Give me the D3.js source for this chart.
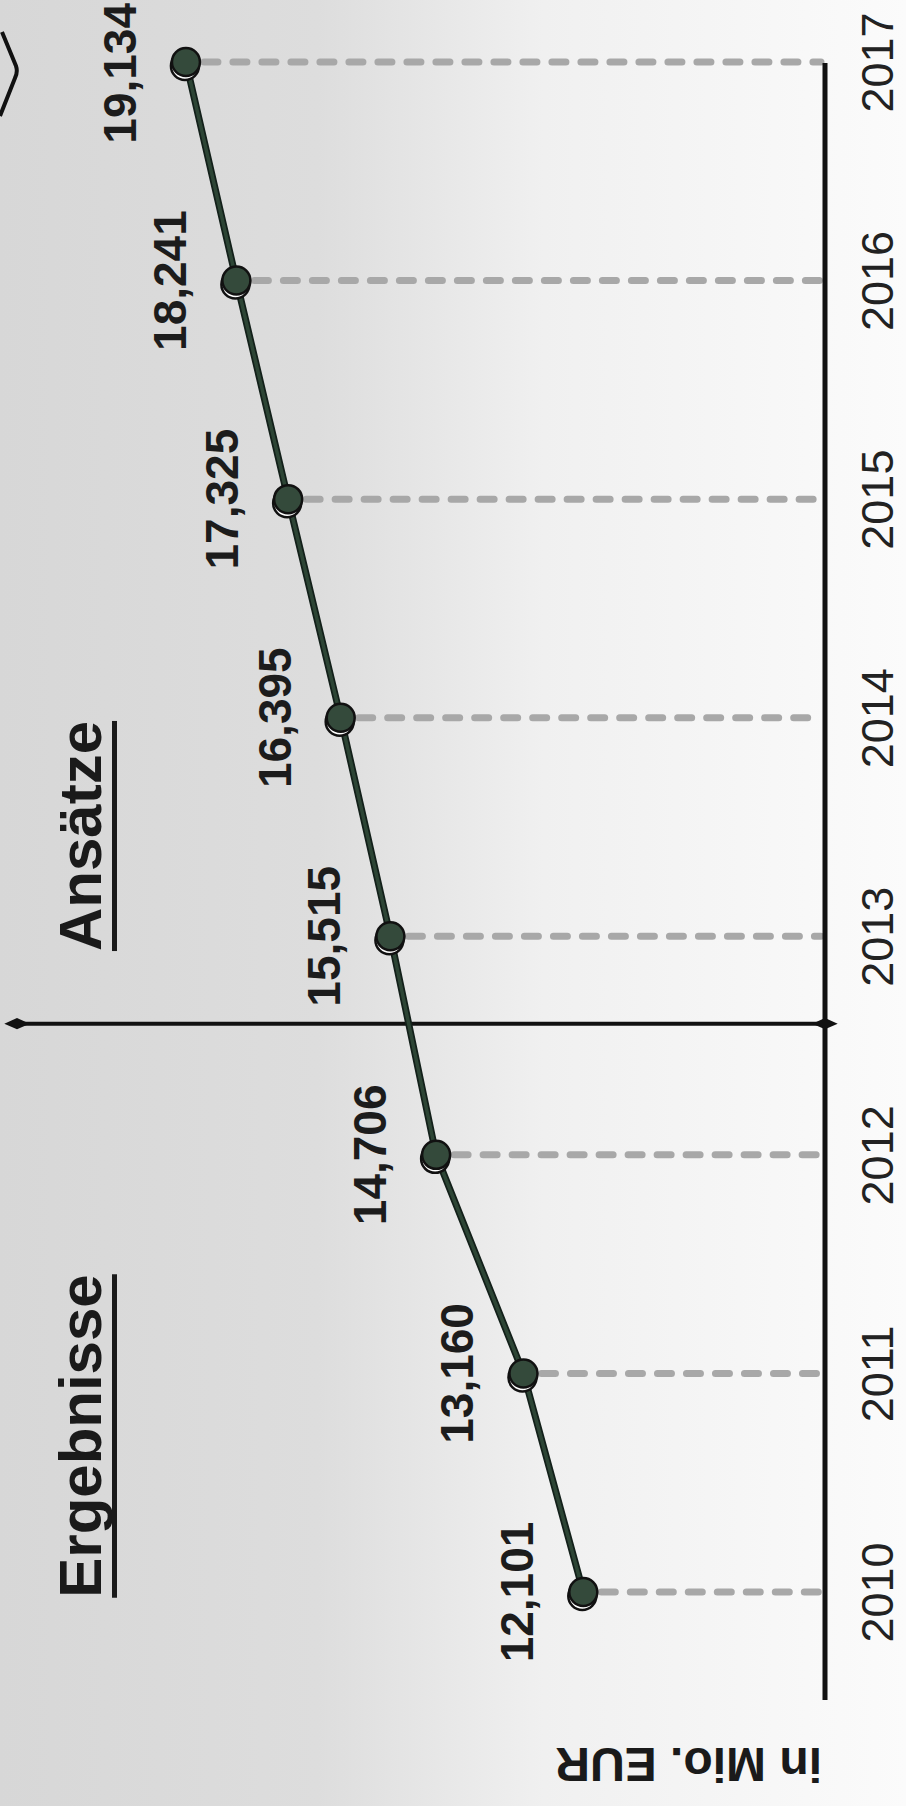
<!DOCTYPE html>
<html>
<head>
<meta charset="utf-8">
<script src="https://cdn.jsdelivr.net/npm/d3@7"></script>
<style>
  html, body { margin: 0; padding: 0; background: #fff; }
  svg { display: block; }
  text { font-family: "Liberation Sans", Arial, "DejaVu Sans", sans-serif; }
</style>
</head>
<body>
<div id="chart"></div>
<script>
// chart data (page is turned a quarter to the left: years run bottom -> top)
var years = [2010, 2011, 2012, 2013, 2014, 2015, 2016, 2017];
var values = [12101, 13160, 14706, 15515, 16395, 17325, 18241, 19134];
var titles = ["Ergebnisse", "Ansätze"];
var unitLabel = "in Mio. EUR";
var splitAfter = 2012;

var width = 906, height = 1806;
var axisX = 825;

var data = years.map(function (y, i) { return { year: y, value: values[i] }; });

var svg = d3.select("#chart")
  .append("svg")
  .attr("width", width)
  .attr("height", height);

// scanned paper look: grey on the left, white towards the right
var defs = svg.append("defs");
var grad = defs.append("linearGradient")
  .attr("id", "paper")
  .attr("x1", "0").attr("x2", "1").attr("y1", "0").attr("y2", "0");
grad.append("stop").attr("offset", "0%").attr("stop-color", "#d7d7d7");
grad.append("stop").attr("offset", "35%").attr("stop-color", "#dddddd");
grad.append("stop").attr("offset", "60%").attr("stop-color", "#f0f0f0");
grad.append("stop").attr("offset", "100%").attr("stop-color", "#fbfbfb");

svg.append("rect")
  .attr("width", width)
  .attr("height", height)
  .attr("fill", "url(#paper)");

// cut-off shape in the top left corner
svg.append("path")
  .attr("d", "M2,32 L16,66 Q18,72 15,78 L0,116")
  .attr("fill", "none")
  .attr("stroke", "#111")
  .attr("stroke-width", 4);

var yearScale = d3.scalePoint()
  .domain(years)
  .range([1592, 62]);

var valueScale = d3.scaleLinear()
  .domain([12000, 20000])
  .range([589, 137]);

var fmt = d3.format(",");
var step = yearScale.step();

// drop lines from each point to the axis
svg.selectAll(".drop")
  .data(data)
  .enter().append("line")
  .attr("class", "drop")
  .attr("x1", function (d) { return valueScale(d.value) + 18; })
  .attr("x2", axisX - 4)
  .attr("y1", function (d) { return yearScale(d.year); })
  .attr("y2", function (d) { return yearScale(d.year); })
  .attr("stroke", "#a8a8a8")
  .attr("stroke-width", 7)
  .attr("stroke-linecap", "round")
  .attr("stroke-dasharray", "14 15");

// axis
var axis = d3.axisRight(yearScale)
  .tickSize(0)
  .tickFormat(function (d) { return d; });

var gAxis = svg.append("g")
  .attr("transform", "translate(" + axisX + ",0)")
  .call(axis);

gAxis.select(".domain").remove();
gAxis.selectAll("text")
  .attr("x", null)
  .attr("dy", null)
  .attr("transform", "translate(68,0) rotate(-90)")
  .attr("text-anchor", "middle")
  .attr("fill", "#222")
  .style("font-size", "45px")
  .style("font-family", "'Liberation Sans', Arial, sans-serif");

svg.append("line")
  .attr("x1", axisX).attr("x2", axisX)
  .attr("y1", yearScale(2017) + 1)
  .attr("y2", yearScale(2010) + 108)
  .attr("stroke", "#111")
  .attr("stroke-width", 5);

// split between results and estimates
var splitY = yearScale(splitAfter) - step * 0.6;
svg.append("line")
  .attr("x1", 17).attr("x2", axisX)
  .attr("y1", splitY).attr("y2", splitY)
  .attr("stroke", "#111")
  .attr("stroke-width", 4);

svg.selectAll(".diamond")
  .data([17, axisX])
  .enter().append("path")
  .attr("class", "diamond")
  .attr("d", d3.symbol().type(d3.symbolDiamond).size(110))
  .attr("transform", function (d) { return "translate(" + d + "," + splitY + ") rotate(90) scale(1,1.3)"; })
  .attr("fill", "#111");

// line
var line = d3.line()
  .x(function (d) { return valueScale(d.value); })
  .y(function (d) { return yearScale(d.year); });

svg.append("path")
  .datum(data)
  .attr("d", line)
  .attr("fill", "none")
  .attr("stroke", "#13201a")
  .attr("stroke-width", 7);

svg.append("path")
  .datum(data)
  .attr("d", line)
  .attr("fill", "none")
  .attr("stroke", "#2d4535")
  .attr("stroke-width", 3.5);

// points with a white rim underneath
var pts = svg.selectAll(".pt")
  .data(data)
  .enter().append("g")
  .attr("class", "pt")
  .attr("transform", function (d) {
    return "translate(" + valueScale(d.value) + "," + yearScale(d.year) + ")";
  });

pts.append("circle")
  .attr("cx", -1).attr("cy", 4)
  .attr("r", 14)
  .attr("fill", "#fff")
  .attr("stroke", "#111")
  .attr("stroke-width", 2.5);

pts.append("circle")
  .attr("r", 14)
  .attr("fill", "#344a3b")
  .attr("stroke", "#111")
  .attr("stroke-width", 2.5);

// value labels, kept inside the page at the top
var vals = svg.selectAll(".val")
  .data(data)
  .enter().append("text")
  .attr("class", "val")
  .attr("text-anchor", "middle")
  .attr("fill", "#1c1c1c")
  .style("font-size", "46px")
  .style("font-weight", "bold")
  .text(function (d) { return fmt(d.value); });

vals.attr("transform", function (d) {
  var half = this.getComputedTextLength() / 2;
  var y = Math.max(yearScale(d.year), half + 3);
  return "translate(" + (valueScale(d.value) - 50) + "," + y + ") rotate(-90)";
});

// section titles with underline
var titlePos = [
  { text: titles[0], y: 1436 },
  { text: titles[1], y: 836 }
];
titlePos.forEach(function (t) {
  var g = svg.append("g")
    .attr("transform", "translate(101," + t.y + ") rotate(-90)");
  var txt = g.append("text")
    .attr("text-anchor", "middle")
    .attr("fill", "#1a1a1a")
    .style("font-size", "60px")
    .style("font-weight", "bold")
    .text(t.text);
  var w = txt.node().getComputedTextLength();
  g.append("rect")
    .attr("x", -w / 2)
    .attr("y", 11)
    .attr("width", w)
    .attr("height", 5)
    .attr("fill", "#1a1a1a");
});

// unit label, upside down
svg.append("text")
  .attr("transform", "translate(822,1748) rotate(180)")
  .attr("text-anchor", "start")
  .attr("fill", "#1a1a1a")
  .style("font-size", "48px")
  .style("font-weight", "bold")
  .text(unitLabel);
</script>
</body>
</html>
